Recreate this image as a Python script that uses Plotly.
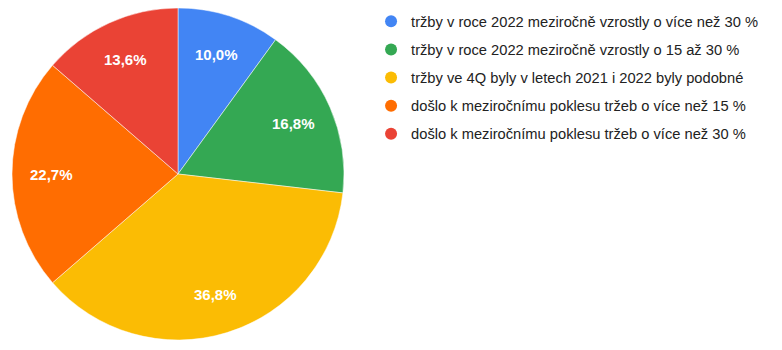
import math
import plotly.graph_objects as go

labels = [
    "tržby v roce 2022 meziročně vzrostly o více než 30 %",
    "tržby v roce 2022 meziročně vzrostly o 15 až 30 %",
    "tržby ve 4Q byly v letech 2021 i 2022 byly podobné",
    "došlo k meziročnímu poklesu tržeb o více než 15 %",
    "došlo k meziročnímu poklesu tržeb o více než 30 %",
]
values = [22, 37, 81, 50, 30]
colors = ["#4285F4", "#34A853", "#FBBC04", "#FF6D01", "#EA4335"]

W, H = 782, 350
cx, cy, r = 178, 174, 166
label_r = 0.76

fig = go.Figure()
fig.add_trace(go.Pie(
    labels=labels, values=values, sort=False, direction="clockwise", rotation=0,
    marker=dict(colors=colors, line=dict(color="white", width=0.5)),
    textinfo="none",
    showlegend=False, hoverinfo="label+percent",
    domain=dict(x=[(cx - r) / W, (cx + r) / W], y=[(H - cy - r) / H, (H - cy + r) / H]),
))

# slice labels placed at the middle angle of each slice (Google-Charts-like)
total = sum(values)
cum = 0
annotations = []
for v in values:
    frac = v / total
    mid = (cum + frac / 2) * 2 * math.pi
    cum += frac
    px = cx + label_r * r * math.sin(mid)
    py = cy - label_r * r * math.cos(mid)
    txt = f"{frac * 100:.1f}%".replace(".", ",")
    annotations.append(dict(
        x=px / W, y=1 - py / H, xref="paper", yref="paper", text=f"<b>{txt}</b>",
        showarrow=False, xanchor="center", yanchor="middle",
        font=dict(color="white", size=15, family="Liberation Sans, Arial"),
    ))

for i, (lab, col) in enumerate(zip(labels, colors)):
    fig.add_trace(go.Scatter(
        x=[None], y=[None], mode="markers", name=lab, legendgroup=f"g{i}",
        marker=dict(symbol="circle", size=11, color=col), showlegend=True,
    ))

fig.update_layout(
    width=W, height=H, margin=dict(l=0, r=0, t=0, b=0),
    paper_bgcolor="white", plot_bgcolor="white",
    separators=", ",
    xaxis=dict(visible=False), yaxis=dict(visible=False),
    font=dict(family="Liberation Sans, Arial", size=14.7, color="#222222"),
    annotations=annotations,
    legend=dict(x=0.4745, y=0.985, xanchor="left", yanchor="top",
                tracegroupgap=6, itemsizing="constant",
                font=dict(size=14.7, color="#222222"), bgcolor="rgba(0,0,0,0)"),
)
fig.write_html("out.html")
